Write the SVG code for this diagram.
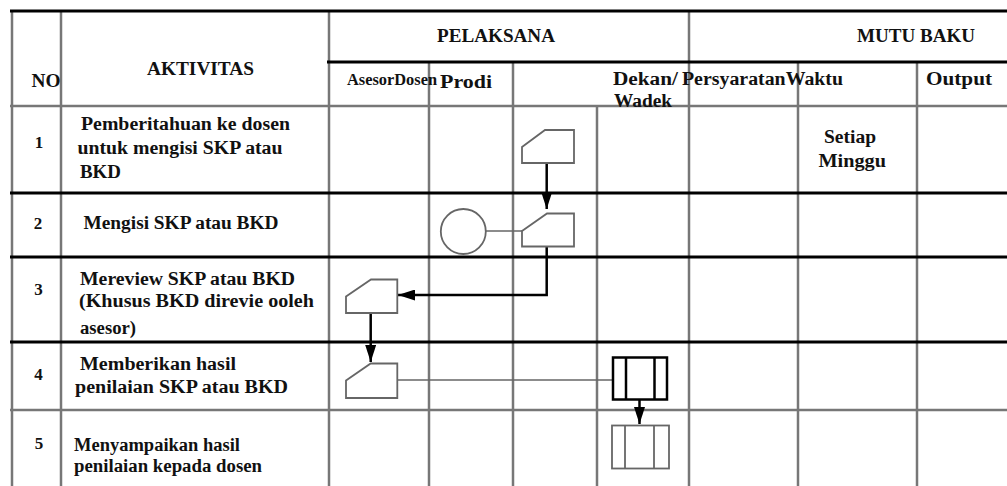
<svg xmlns="http://www.w3.org/2000/svg" width="1007" height="486" viewBox="0 0 1007 486">
<style>
text{font-family:"Liberation Serif","Times New Roman",serif;font-weight:bold;fill:#111;}
.t{font-size:18px;}
.h{font-size:18px;}
.s{font-size:16.5px;}
.n{font-size:17px;text-anchor:middle;}
.bk{stroke:#000;stroke-width:3;fill:none;}
.gr{stroke:#777;stroke-width:2.5;fill:none;}
.shape{fill:#fff;stroke:#666;stroke-width:1.8;}
.link{stroke:#666;stroke-width:1.6;fill:none;}
.arrow{stroke:#000;stroke-width:2.5;fill:none;marker-end:url(#ah);}
</style>
<defs>
<marker id="ah" markerUnits="userSpaceOnUse" markerWidth="18" markerHeight="11" refX="17" refY="5.5" orient="auto">
<path d="M0,0 L17,5.5 L0,11 Z" fill="#000"/>
</marker>
</defs>
<rect width="1007" height="486" fill="#fff"/>
<g id="grid">
<line class="gr" x1="12" y1="12" x2="12" y2="486"/>
<line class="gr" x1="61" y1="12" x2="61" y2="486"/>
<line class="gr" x1="329" y1="12" x2="329" y2="486"/>
<line class="gr" x1="429" y1="62" x2="429" y2="486"/>
<line class="gr" x1="513" y1="62" x2="513" y2="486"/>
<line class="gr" x1="597" y1="106" x2="597" y2="486"/>
<line class="gr" x1="689" y1="12" x2="689" y2="486"/>
<line class="gr" x1="798" y1="62" x2="798" y2="486"/>
<line class="gr" x1="917" y1="62" x2="917" y2="486"/>
<line class="gr" x1="10" y1="106" x2="1007" y2="106"/>
<line class="gr" x1="10" y1="410" x2="1007" y2="410"/>
<line class="bk" x1="10" y1="11" x2="1007" y2="11"/>
<line class="bk" x1="327" y1="62" x2="1007" y2="62"/>
<line class="bk" x1="10" y1="193" x2="1007" y2="193"/>
<line class="bk" x1="10" y1="257" x2="1007" y2="257"/>
<line class="bk" x1="10" y1="342" x2="1007" y2="342"/>
</g>
<g id="header">
<text class="h" x="31.5" y="87" textLength="29" lengthAdjust="spacingAndGlyphs">NO</text>
<text class="h" x="147" y="75" textLength="107" lengthAdjust="spacingAndGlyphs">AKTIVITAS</text>
<text class="h" x="437" y="41.5" textLength="118" lengthAdjust="spacingAndGlyphs">PELAKSANA</text>
<text class="h" x="857" y="41.5" textLength="118" lengthAdjust="spacingAndGlyphs">MUTU BAKU</text>
<text class="s" x="347" y="85" textLength="90" lengthAdjust="spacingAndGlyphs">AsesorDosen</text>
<text class="t" x="440" y="87.5" textLength="52" lengthAdjust="spacingAndGlyphs">Prodi</text>
<text class="t" x="613" y="85" textLength="65" lengthAdjust="spacingAndGlyphs">Dekan/</text>
<text class="t" x="614" y="107" textLength="58" lengthAdjust="spacingAndGlyphs">Wadek</text>
<text class="h" x="682" y="85" textLength="161" lengthAdjust="spacingAndGlyphs">PersyaratanWaktu</text>
<text class="h" x="926" y="85" textLength="66" lengthAdjust="spacingAndGlyphs">Output</text>
</g>
<g id="rows">
<text class="n" x="39" y="148">1</text>
<text class="t" x="81" y="130" textLength="209" lengthAdjust="spacingAndGlyphs">Pemberitahuan ke dosen</text>
<text class="t" x="77.5" y="153.5" textLength="205" lengthAdjust="spacingAndGlyphs">untuk mengisi SKP atau</text>
<text class="t" x="80" y="177.5" textLength="41" lengthAdjust="spacingAndGlyphs">BKD</text>
<text class="t" x="824" y="143" textLength="52" lengthAdjust="spacingAndGlyphs">Setiap</text>
<text class="t" x="818.5" y="166.5" textLength="67.5" lengthAdjust="spacingAndGlyphs">Minggu</text>
<text class="n" x="38" y="228.5">2</text>
<text class="t" x="83.5" y="228.5" textLength="195" lengthAdjust="spacingAndGlyphs">Mengisi SKP atau BKD</text>
<text class="n" x="38.5" y="295">3</text>
<text class="t" x="80" y="285" textLength="215" lengthAdjust="spacingAndGlyphs">Mereview SKP atau BKD</text>
<text class="t" x="79" y="306.5" textLength="235" lengthAdjust="spacingAndGlyphs">(Khusus BKD direvie ooleh</text>
<text class="t" x="80" y="333.5" textLength="56" lengthAdjust="spacingAndGlyphs">asesor)</text>
<text class="n" x="38.5" y="379.5">4</text>
<text class="t" x="80" y="370" textLength="156" lengthAdjust="spacingAndGlyphs">Memberikan hasil</text>
<text class="t" x="75" y="393" textLength="213" lengthAdjust="spacingAndGlyphs">penilaian SKP atau BKD</text>
<text class="n" x="39" y="448.5">5</text>
<text class="t" x="74" y="451" textLength="166" lengthAdjust="spacingAndGlyphs">Menyampaikan hasil</text>
<text class="t" x="74" y="471.5" textLength="188" lengthAdjust="spacingAndGlyphs">penilaian kepada dosen</text>
</g>
<g id="connectors">
<line class="link" x1="485.5" y1="231" x2="522" y2="231"/>
<line class="link" x1="397" y1="380" x2="613" y2="380"/>
<path class="arrow" d="M546.7,163 V209"/>
<path class="arrow" d="M546.7,246.5 V295 H398"/>
<path class="arrow" d="M370.7,313 V362"/>
<path class="arrow" d="M639.5,400 V424"/>
</g>
<g id="node-1">
<path class="shape" d="M522,147 L545,130 L574,130 L574,163 L522,163 Z"/>
</g>
<g id="node-start">
<circle class="shape" cx="463.3" cy="231.5" r="22.5"/>
</g>
<g id="node-2">
<path class="shape" d="M522,231 L547,213.5 L574,213.5 L574,246.5 L522,246.5 Z"/>
</g>
<g id="node-3">
<path class="shape" d="M346,296.5 L371,279.5 L397.3,279.5 L397.3,313 L346,313 Z"/>
</g>
<g id="node-4">
<path class="shape" d="M346,380.5 L370.7,363.5 L397.3,363.5 L397.3,398 L346,398 Z"/>
</g>
<g id="node-5">
<rect x="613" y="357.5" width="54" height="42" fill="#fff" stroke="#000" stroke-width="2.5"/>
<line x1="626" y1="357.5" x2="626" y2="399.5" stroke="#000" stroke-width="2.5"/>
<line x1="654.5" y1="357.5" x2="654.5" y2="399.5" stroke="#000" stroke-width="2.5"/>
</g>
<g id="node-6">
<rect class="shape" x="612" y="425.5" width="57" height="43"/>
<line x1="625" y1="425.5" x2="625" y2="468.5" stroke="#666" stroke-width="1.8"/>
<line x1="654" y1="425.5" x2="654" y2="468.5" stroke="#666" stroke-width="1.8"/>
</g>
</svg>
